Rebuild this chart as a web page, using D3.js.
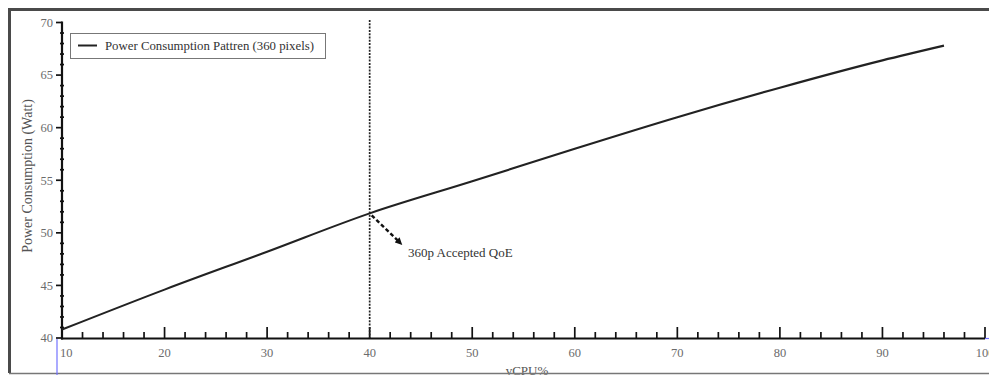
<!DOCTYPE html>
<html>
<head>
<meta charset="utf-8">
<script src="https://cdn.jsdelivr.net/npm/d3@7"></script>
<style>
  html, body { margin: 0; padding: 0; background: #fff; }
  svg { display: block; font-family: "Liberation Serif", "Times New Roman", serif; }
</style>
</head>
<body>
<svg id="chart" width="989" height="375"></svg>
<script>
// vCPU utilisation (%) and measured power draw (W) for the 360-pixel stream
const cpuPercent = [10, 20, 30, 40, 50, 60, 70, 80, 90, 96];
const powerWatt  = [40.8, 44.6, 48.2, 51.85, 54.9, 58.0, 61.0, 63.8, 66.4, 67.8];
const xTicks = [10, 20, 30, 40, 50, 60, 70, 80, 90, 100];
const yTicks = [40, 45, 50, 55, 60, 65, 70];
const acceptedCpu = 40;
const seriesName = "Power Consumption Pattren (360 pixels)";
const noteText = "360p Accepted QoE";

const svg = d3.select("#chart");
const x = d3.scaleLinear().domain([10, 100]).range([62, 985]);
const y = d3.scaleLinear().domain([40, 70]).range([338, 22.5]);
const series = cpuPercent.map((c, i) => ({ c, p: powerWatt[i] }));

// outer frame
svg.append("line").attr("x1", 9.5).attr("x2", 989).attr("y1", 9.5).attr("y2", 9.5)
  .attr("stroke", "#4a4a4a").attr("stroke-width", 3);
svg.append("line").attr("x1", 9.5).attr("x2", 9.5).attr("y1", 8).attr("y2", 373)
  .attr("stroke", "#4a4a4a").attr("stroke-width", 3);

// x axis: ticks pointing up into the plot
const xg = svg.append("g");
const minorX = d3.range(10, 100.01, 2);
xg.selectAll("line.minor").data(minorX).join("line")
  .attr("x1", d => x(d)).attr("x2", d => x(d))
  .attr("y1", 338).attr("y2", d => d % 10 === 0 ? 327 : 332)
  .attr("stroke", "#111").attr("stroke-width", 1.7);
xg.append("line").attr("x1", x(10) - 1).attr("x2", x(100)).attr("y1", 338.5).attr("y2", 338.5)
  .attr("stroke", "#111").attr("stroke-width", 2.2);
xg.selectAll("text").data(xTicks).join("text")
  .attr("x", d => x(d)).attr("y", 357)
  .attr("text-anchor", d => d === 10 ? "start" : "middle")
  .attr("dx", d => d === 10 ? -2 : 0)
  .attr("fill", "#6b6b6b").attr("font-size", 12.5).text(d => d);

// y axis: major ticks outside, minor cross ticks every unit
const yg = svg.append("g");
const minorY = d3.range(40, 70.01, 1);
yg.selectAll("line.tick").data(minorY).join("line")
  .attr("x1", d => d % 5 === 0 ? x(10) - 6 : x(10) - 2)
  .attr("x2", d => d % 5 === 0 ? x(10) : x(10) + 2)
  .attr("y1", d => y(d)).attr("y2", d => y(d))
  .attr("stroke", "#111").attr("stroke-width", 1.7);
yg.append("line").attr("x1", x(10)).attr("x2", x(10)).attr("y1", y(70) - 1).attr("y2", 339.5)
  .attr("stroke", "#111").attr("stroke-width", 2.2);
yg.selectAll("text").data(yTicks).join("text")
  .attr("x", x(10) - 9).attr("y", d => y(d)).attr("dy", "0.35em")
  .attr("text-anchor", "end").attr("fill", "#6b6b6b").attr("font-size", 12.5).text(d => d);

// axis titles
svg.append("text").attr("transform", "translate(32,176) rotate(-90)")
  .attr("text-anchor", "middle").attr("fill", "#555").attr("font-size", 14)
  .text("Power Consumption (Watt)");
svg.append("text").attr("x", 527).attr("y", 375)
  .attr("text-anchor", "middle").attr("fill", "#555").attr("font-size", 13)
  .text("vCPU%");

// bottom frame edge and selection guides
svg.append("line").attr("x1", 9).attr("x2", 989).attr("y1", 373.5).attr("y2", 373.5)
  .attr("stroke", "#777").attr("stroke-width", 1.5);
svg.append("line").attr("x1", 57).attr("x2", 57).attr("y1", 339).attr("y2", 375)
  .attr("stroke", "#7272ff").attr("stroke-width", 1.2);
svg.append("line").attr("x1", 985).attr("x2", 989).attr("y1", 338.5).attr("y2", 338.5)
  .attr("stroke", "#7272ff").attr("stroke-width", 1.2);

// accepted-QoE threshold
svg.append("line").attr("x1", x(acceptedCpu)).attr("x2", x(acceptedCpu))
  .attr("y1", 20).attr("y2", 338)
  .attr("stroke", "#222").attr("stroke-width", 1.7).attr("stroke-dasharray", "2,1.3");

// power curve
svg.append("path").datum(series)
  .attr("fill", "none").attr("stroke", "#222").attr("stroke-width", 2.1)
  .attr("d", d3.line().x(d => x(d.c)).y(d => y(d.p)).curve(d3.curveMonotoneX));

// annotation arrow
const defs = svg.append("defs");
defs.append("marker").attr("id", "head").attr("viewBox", "0 0 10 10")
  .attr("refX", 5).attr("refY", 5).attr("markerWidth", 3).attr("markerHeight", 3)
  .attr("orient", "auto")
  .append("path").attr("d", "M0,0 L10,5 L0,10 Z").attr("fill", "#111");
const ax0 = x(acceptedCpu), ay0 = y(powerWatt[cpuPercent.indexOf(acceptedCpu)]);
svg.append("line").attr("x1", ax0 + 2).attr("y1", ay0 + 2).attr("x2", ax0 + 30).attr("y2", ay0 + 29)
  .attr("stroke", "#111").attr("stroke-width", 2.4).attr("stroke-dasharray", "4,2.5")
  .attr("marker-end", "url(#head)");
svg.append("text").attr("x", 408).attr("y", 257).attr("fill", "#333").attr("font-size", 13)
  .text(noteText);

// legend
const lg = svg.append("g");
lg.append("rect").attr("x", 70.5).attr("y", 33.5).attr("width", 255).attr("height", 25)
  .attr("fill", "#fff").attr("stroke", "#777").attr("stroke-width", 1);
lg.append("line").attr("x1", 78).attr("x2", 97).attr("y1", 45.5).attr("y2", 45.5)
  .attr("stroke", "#222").attr("stroke-width", 2);
lg.append("text").attr("x", 105).attr("y", 50).attr("fill", "#333").attr("font-size", 12.8)
  .text(seriesName);
</script>
</body>
</html>
